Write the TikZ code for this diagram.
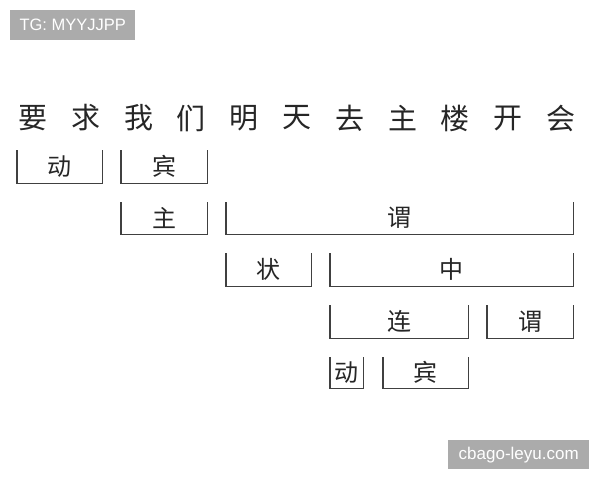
\documentclass[tikz,border=0pt]{standalone}
\usepackage{fontspec}
\setmainfont{Liberation Sans}
\newfontfamily\cjk{Noto Sans CJK SC}
\begin{document}
\begin{tikzpicture}[x=1pt,y=-1pt,
  word/.style={inner sep=0pt, font=\cjk\fontsize{29}{29}\selectfont, text=black!85},
  brk/.style={anchor=north west, inner sep=0pt, font=\cjk\fontsize{24}{24}\selectfont, text=black!85},
  brline/.style={line width=1.3pt, draw=black!75},
  wm/.style={fill=black!33, text=white, inner sep=0pt}]
\useasboundingbox (0,0) rectangle (600,480);
\fill[white] (0,0) rectangle (600,480);
% watermarks
\node[wm, font=\fontsize{16.5}{16}\selectfont, minimum width=125pt, minimum height=30pt, anchor=north west] (wm1) at (10,10) {TG: MYYJJPP};
\node[wm, font=\fontsize{17}{16}\selectfont, minimum width=141pt, minimum height=29pt, anchor=north west] (wm2) at (448,440) {cbago-leyu.com};
% sentence
\foreach \c [count=\i from 0] in {要,求,我,们,明,天,去,主,楼,开,会}
  \node[word] (t\i) at ({33+52.8*\i},118) {\c};
% brackets
\node[brk, minimum width=85pt, minimum height=33pt] (r1a) at (17,150) {动};
\node[brk, minimum width=86pt, minimum height=33pt] (r1b) at (121,150) {宾};
\node[brk, minimum width=86pt, minimum height=32pt] (r2a) at (121,202) {主};
\node[brk, minimum width=347pt, minimum height=32pt] (r2b) at (226,202) {谓};
\node[brk, minimum width=85pt, minimum height=33pt] (r3a) at (226,253) {状};
\node[brk, minimum width=243pt, minimum height=33pt] (r3b) at (330,253) {中};
\node[brk, minimum width=138pt, minimum height=33pt] (r4a) at (330,305) {连};
\node[brk, minimum width=86pt, minimum height=33pt] (r4b) at (487,305) {谓};
\node[brk, minimum width=33pt, minimum height=31pt] (r5a) at (330,357) {动};
\node[brk, minimum width=85pt, minimum height=31pt] (r5b) at (383,357) {宾};
\foreach \n in {r1a,r1b,r2a,r2b,r3a,r3b,r4a,r4b,r5a,r5b}
  \draw[brline] (\n.north west) |- (\n.south east) -- (\n.north east);
\end{tikzpicture}
\end{document}
